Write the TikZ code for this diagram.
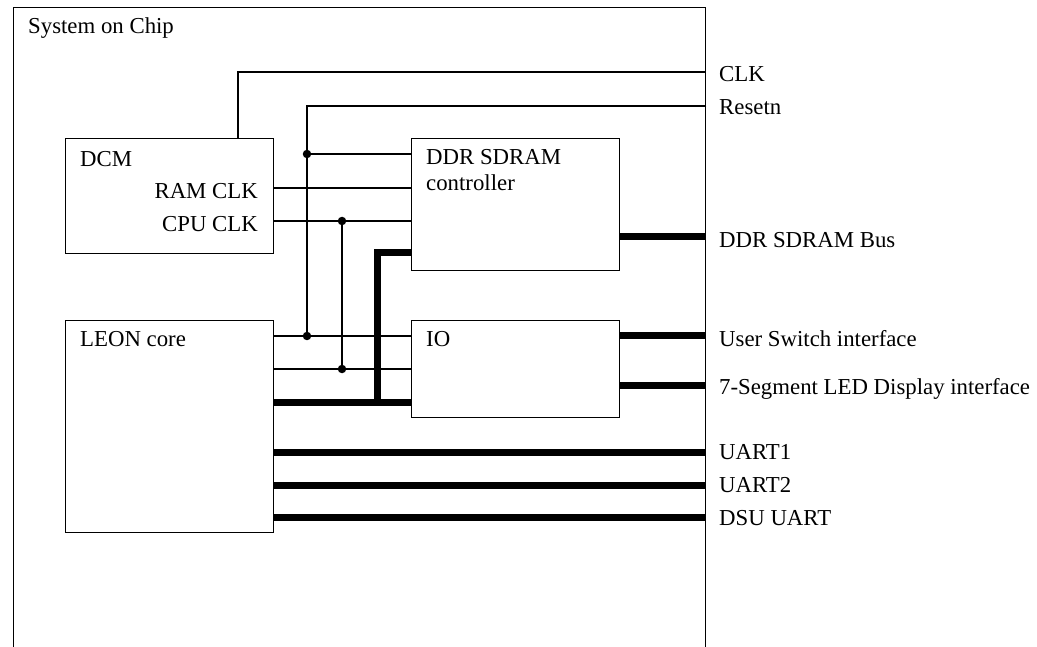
\documentclass[tikz,border=0pt]{standalone}
\usepackage{fontspec}
\setmainfont{Liberation Serif}
\begin{document}
\begin{tikzpicture}[x=1pt,y=-1pt,
  box/.style={draw, line width=1.4pt, inner sep=0pt, anchor=north west},
  wire/.style={line width=1.2pt},
  bus/.style={line width=7pt, line join=miter},
  lbl/.style={anchor=base west, inner sep=0pt, font=\fontsize{22.8}{26}\selectfont},
  rlbl/.style={anchor=base east, inner sep=0pt, font=\fontsize{22.8}{26}\selectfont},
  jdot/.style={circle, fill, inner sep=0pt, minimum size=8.5pt}]
\useasboundingbox (0,0) rectangle (1037,647);
\fill[white] (0,0) rectangle (1037,647);
% outer chip boundary
\node[box, minimum width=692pt, minimum height=680pt] (soc) at (13,7) {};
% blocks
\node[box, minimum width=208pt, minimum height=115pt] (dcm) at (65,138) {};
\node[box, minimum width=208pt, minimum height=132pt] (ddr) at (411,138) {};
\node[box, minimum width=208pt, minimum height=97pt] (io) at (411,320) {};
\node[box, minimum width=208pt, minimum height=212pt] (leon) at (65,320) {};
% y levels
\coordinate (yclk) at (0,72);
\coordinate (yrst) at (0,106);
\coordinate (yr1) at (0,154);
\coordinate (yram) at (0,188);
\coordinate (ycpu) at (0,221);
\coordinate (yddrb) at (0,253);
\coordinate (ybus) at (0,237);
\coordinate (yl1) at (0,336);
\coordinate (yl2) at (0,369);
\coordinate (yl3) at (0,402);
\coordinate (yio2) at (0,385);
\coordinate (yu1) at (0,452);
\coordinate (yu2) at (0,485);
\coordinate (yu3) at (0,517);
% x levels
\coordinate (xclk) at (238,0);
\coordinate (xrst) at (307,0);
\coordinate (xcpu) at (342,0);
\coordinate (xbus) at (377,0);
% junctions
\node[jdot] (j1) at (xrst |- yr1) {};
\node[jdot] (j2) at (xrst |- yl1) {};
\node[jdot] (j3) at (xcpu |- ycpu) {};
\node[jdot] (j4) at (xcpu |- yl2) {};
% thin wires
\draw[wire] (dcm.north -| xclk) -- (xclk |- yclk) -- (soc.east |- yclk);
\draw[wire] (soc.east |- yrst) -- (xrst |- yrst) -- (j1.center) -- (j2.center);
\draw[wire] (j1.center) -- (ddr.west |- yr1);
\draw[wire] (dcm.east |- yram) -- (ddr.west |- yram);
\draw[wire] (dcm.east |- ycpu) -- (ddr.west |- ycpu);
\draw[wire] (j3.center) -- (j4.center);
\draw[wire] (leon.east |- yl1) -- (io.west |- yl1);
\draw[wire] (leon.east |- yl2) -- (io.west |- yl2);
% buses
\draw[bus] (ddr.west |- yddrb) -| (xbus |- yl3);
\draw[bus] (leon.east |- yl3) -- (io.west |- yl3);
\draw[bus] (ddr.east |- ybus) -- (soc.east |- ybus);
\draw[bus] (io.east |- yl1) -- (soc.east |- yl1);
\draw[bus] (io.east |- yio2) -- (soc.east |- yio2);
\draw[bus] (leon.east |- yu1) -- (soc.east |- yu1);
\draw[bus] (leon.east |- yu2) -- (soc.east |- yu2);
\draw[bus] (leon.east |- yu3) -- (soc.east |- yu3);
% texts
\node[lbl] (tsoc) at (28,34) {System on Chip};
\node[lbl] (tdcm) at (80,167) {DCM};
\node[rlbl] (tram) at (258,199) {RAM CLK};
\node[rlbl] (tcpu) at (258,232) {CPU CLK};
\node[lbl] (tddr1) at (426,165) {DDR SDRAM};
\node[lbl] (tddr2) at (426,191) {controller};
\node[lbl] (tio) at (426,347) {IO};
\node[lbl] (tleon) at (80,347) {LEON core};
\node[lbl] (oclk) at (719,82) {CLK};
\node[lbl] (orst) at (719,115) {Resetn};
\node[lbl] (obus) at (719,248) {DDR SDRAM Bus};
\node[lbl] (osw) at (719,346) {User Switch interface};
\node[lbl] (oseg) at (719,394) {7-Segment LED Display interface};
\node[lbl] (ou1) at (719,459) {UART1};
\node[lbl] (ou2) at (719,492) {UART2};
\node[lbl] (ou3) at (719,525) {DSU UART};
\end{tikzpicture}
\end{document}
